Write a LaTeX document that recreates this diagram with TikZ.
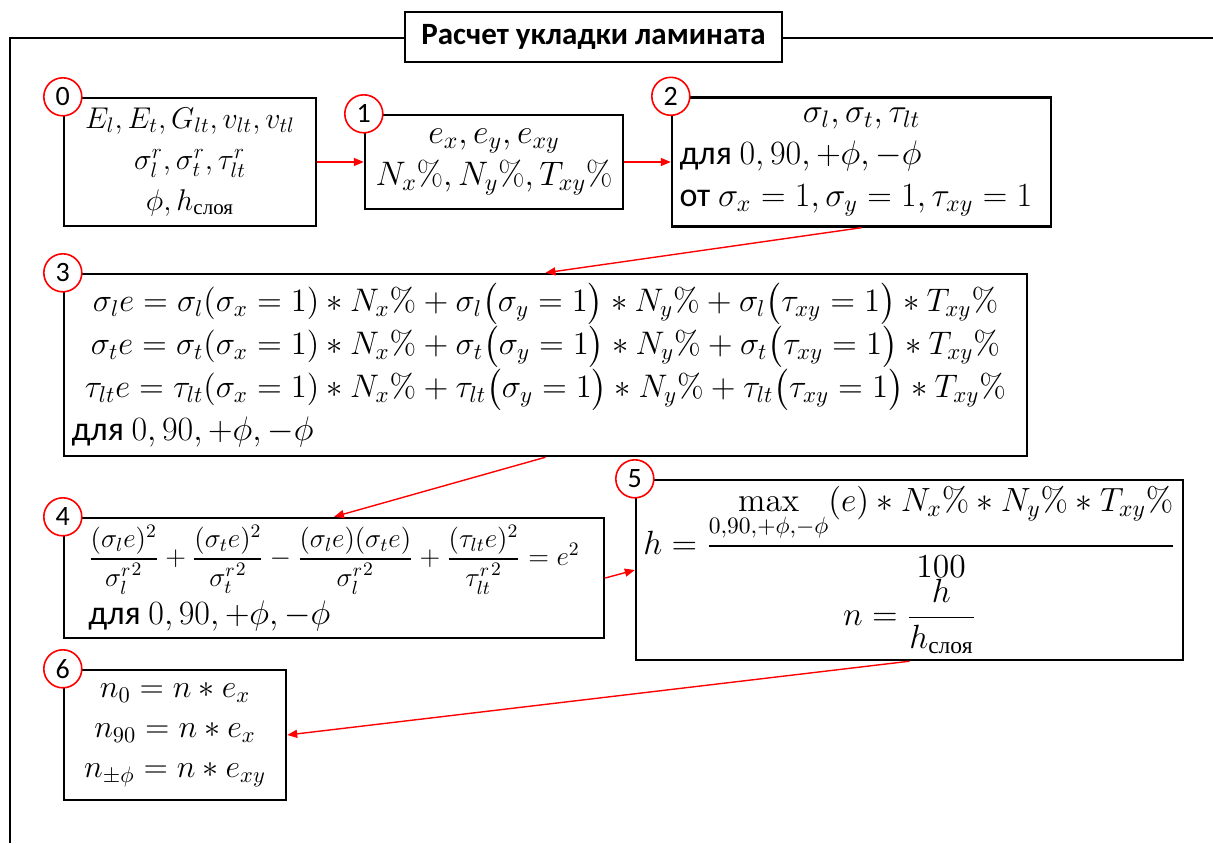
\RequirePackage{fix-cm}
\documentclass[tikz,border=0pt]{standalone}
\usepackage{amsmath}
\usepackage[no-math]{fontspec}
\setmainfont{Carlito}
\newfontfamily\cyrserif{Liberation Serif}
\usetikzlibrary{arrows.meta}
\newcommand{\sloya}{\text{\cyrserif слоя}}

\begin{document}
\begin{tikzpicture}[x=0.5pt,y=0.5pt,block/.style={draw,line width=1.2pt,fill=white,inner sep=3pt,font=\fontsize{17}{21}\selectfont},badge/.style={circle,draw=red,line width=0.8pt,fill=white,minimum size=19pt,inner sep=0pt,font=\fontsize{14}{14}\selectfont},heading/.style={draw,line width=1.2pt,fill=white,minimum width=188.5pt,minimum height=25pt,inner sep=0pt,font=\fontsize{15.5}{15.5}\selectfont\bfseries},flow/.style={red,line width=0.7pt,-{Triangle[length=5pt,width=4pt]}}]
\useasboundingbox (0,0) rectangle (1213,843);
\draw[line width=1pt] (10,0) -- (10,805) -- (1213,805);
\node[heading] (ttl) at (593.5,806) {Расчет укладки ламината};
\node[block,font=\fontsize{15}{20.5}\selectfont,minimum width=126pt,minimum height=64pt,align=center] (b0) at (190,681) {$E_l, E_t, G_{lt}, v_{lt}, v_{tl}$\\ $\sigma_l^r, \sigma_t^r, \tau_{lt}^r$\\ $\phi, h_{\sloya}$};
\node[block,minimum width=129pt,minimum height=47pt,align=center] (b1) at (494,681) {$e_x, e_y, e_{xy}$\\ $N_x\%, N_y\%, T_{xy}\%$};
\node[block,minimum width=189.5pt,minimum height=64.5pt,text width=182pt,align=flush left] (b2) at (861.5,681) {\makebox[\hsize]{$\sigma_l, \sigma_t, \tau_{lt}$}\\ для $0, 90, +\phi, -\phi$\\ от $\sigma_x=1, \sigma_y=1, \tau_{xy}=1$};
\node[block,font=\fontsize{16.3}{21.5}\selectfont,minimum width=481.5pt,minimum height=91pt,text width=474pt,align=flush center] (b3) at (545.5,478) {$\sigma_l e=\sigma_l(\sigma_x=1)\ast N_x\%+\sigma_l\bigl(\sigma_y=1\bigr)\ast N_y\%+\sigma_l\bigl(\tau_{xy}=1\bigr)\ast T_{xy}\%$\\ $\sigma_t e=\sigma_t(\sigma_x=1)\ast N_x\%+\sigma_t\bigl(\sigma_y=1\bigr)\ast N_y\%+\sigma_t\bigl(\tau_{xy}=1\bigr)\ast T_{xy}\%$\\ $\tau_{lt} e=\tau_{lt}(\sigma_x=1)\ast N_x\%+\tau_{lt}\bigl(\sigma_y=1\bigr)\ast N_y\%+\tau_{lt}\bigl(\tau_{xy}=1\bigr)\ast T_{xy}\%$\\ \makebox[\hsize][l]{\fontsize{17}{21}\selectfont для $0, 90, +\phi, -\phi$}};
\node[block,font=\fontsize{13.6}{17}\selectfont,minimum width=270pt,minimum height=60pt,align=flush left] (b4) at (334,265) {$\dfrac{(\sigma_l e)^2}{{\sigma_l^r}^2}+\dfrac{(\sigma_t e)^2}{{\sigma_t^r}^2}-\dfrac{(\sigma_l e)(\sigma_t e)}{{\sigma_l^r}^2}+\dfrac{(\tau_{lt} e)^2}{{\tau_{lt}^r}^2}=e^2$\\[2pt] {\fontsize{17}{21}\selectfont для $0, 90, +\phi, -\phi$}};
\node[block,font=\fontsize{16.8}{21}\selectfont,minimum width=273.5pt,minimum height=90pt,align=center] (b5) at (909.5,273) {$\displaystyle h=\frac{\max\limits_{0,90,+\phi,-\phi}(e)\ast N_x\%\ast N_y\%\ast T_{xy}\%}{100}$\\ $\displaystyle n=\frac{h}{h_{\sloya}}$};
\node[block,font=\fontsize{16}{20}\selectfont,minimum width=111pt,minimum height=65pt,align=center] (b6) at (175,108) {$n_0=n\ast e_x$\\ $n_{90}=n\ast e_x$\\ $n_{\pm\phi}=n\ast e_{xy}$};
\node[badge] (c0) at (b0.north west) {0};
\node[badge] (c1) at (b1.north west) {1};
\node[badge] (c2) at (b2.north west) {2};
\node[badge] (c3) at (b3.north west) {3};
\node[badge] (c4) at (b4.north west) {4};
\node[badge] (c5) at (b5.north west) {5};
\node[badge] (c6) at (b6.north west) {6};
\draw[flow] (b0.east) -- (b1.west);
\draw[flow] (b1.east) -- (b2.west);
\draw[flow] (b2.south) -- (b3.north);
\draw[flow] (b3.south) -- (b4.north);
\draw[flow] (b4.east) -- (b5.west);
\draw[flow] (b5.south) -- (b6.east);
\end{tikzpicture}
\end{document}
